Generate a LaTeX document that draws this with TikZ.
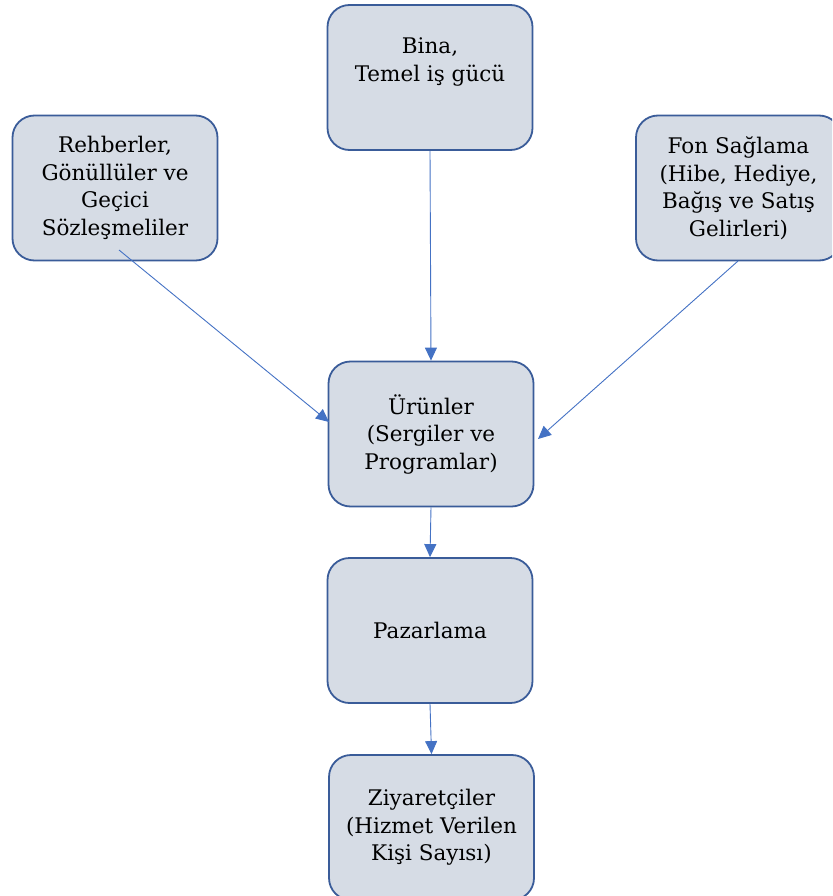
\documentclass[tikz,border=0pt]{standalone}
\usepackage{fontspec}
\setmainfont{DejaVu Serif}
\usetikzlibrary{arrows.meta}
\definecolor{boxfill}{HTML}{D6DCE5}
\definecolor{boxline}{HTML}{3A5C99}
\definecolor{arrowc}{HTML}{4472C4}
\tikzset{
  box/.style={draw=boxline, fill=boxfill, line width=1.8pt, rounded corners=22pt,
    minimum width=205pt, minimum height=145pt, align=center,
    font=\fontsize{21.5}{27.5}\selectfont, inner sep=2pt},
  conn/.style={draw=arrowc, line width=0.9pt, -{Triangle[length=13pt,width=12pt]}}
}
\begin{document}
\begin{tikzpicture}[x=1pt,y=-1pt]
\useasboundingbox (0,0) rectangle (832,896);
\clip (0,0) rectangle (832,896);
\node[box] (bina) at (430,77.5) {Bina,\\ Temel iş gücü\\ \strut};
\node[box] (reh) at (115,188) {Rehberler,\\ Gönüllüler ve\\ Geçici\\ Sözleşmeliler};
\node[box] (fon) at (738.5,188) {Fon Sağlama\\ (Hibe, Hediye,\\ Bağış ve Satış\\ Gelirleri)};
\node[box] (urun) at (431,434) {Ürünler\\ (Sergiler ve\\ Programlar)};
\node[box] (paz) at (430,630.5) {Pazarlama};
\node[box] (ziy) at (431.5,827.5) {Ziyaretçiler\\ (Hizmet Verilen\\ Kişi Sayısı)};
\coordinate (rehout) at (119,250);
\coordinate (fonout) at (738,261);
\coordinate (urunin1) at (329,422);
\coordinate (urunin2) at (538,439);
\draw[conn] (bina.south) -- (urun.north);
\draw[conn] (rehout) -- (urunin1);
\draw[conn] (fonout) -- (urunin2);
\draw[conn] (urun.south) -- (paz.north);
\draw[conn] (paz.south) -- (ziy.north);
\end{tikzpicture}
\end{document}
